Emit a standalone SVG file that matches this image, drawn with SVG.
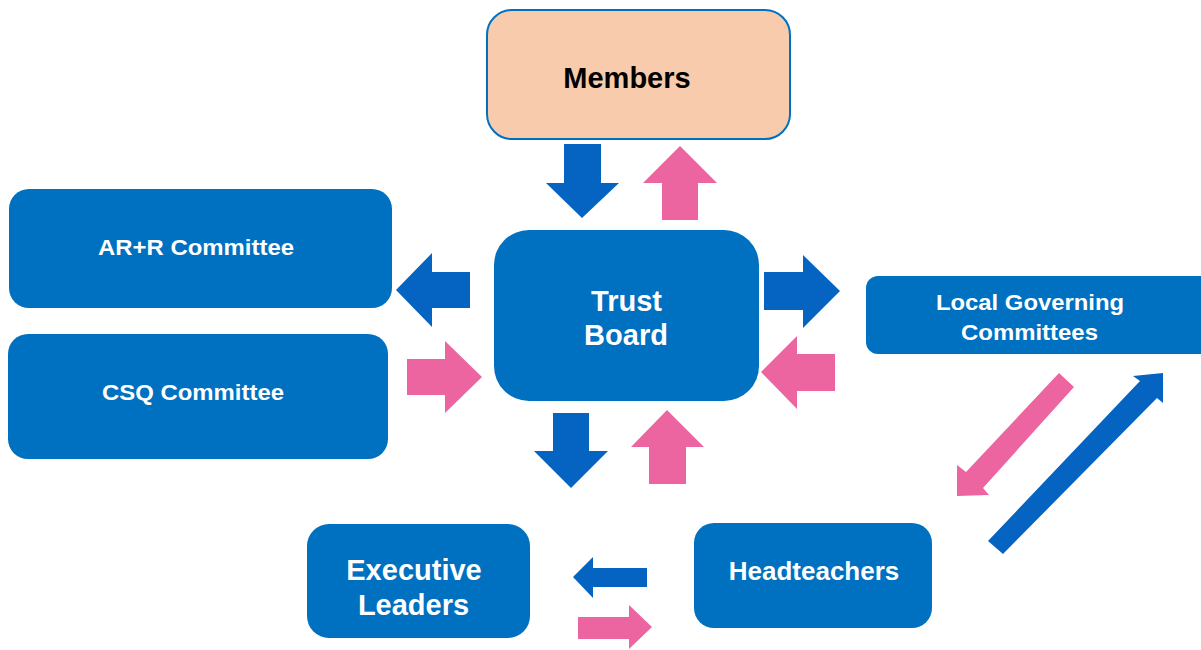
<svg xmlns="http://www.w3.org/2000/svg" width="1201" height="650" viewBox="0 0 1201 650">
<style>
.box{fill:#0070C0;}
.lbl{font-family:"Liberation Sans",Arial,sans-serif;font-weight:bold;fill:#FFFFFF;text-anchor:middle;}
.blue{fill:#0563C1;}
.pink{fill:#EC65A0;}
</style>
<rect width="1201" height="650" fill="#FFFFFF"/>
<g id="members">
<rect x="487" y="10" width="303" height="129" rx="25" fill="#F8CBAD" stroke="#0070C0" stroke-width="2"/>
<text class="lbl" x="627" y="88" font-size="29" style="fill:#000000">Members</text>
</g>
<g id="trust-board">
<rect class="box" x="494" y="230" width="265" height="171" rx="35"/>
<text class="lbl" x="626.5" y="311" font-size="29">Trust</text>
<text class="lbl" x="626" y="345" font-size="29">Board</text>
</g>
<g id="arr-committee">
<rect class="box" x="9" y="189" width="383" height="119" rx="20"/>
<text class="lbl" x="196" y="255" font-size="22" textLength="196" lengthAdjust="spacingAndGlyphs">AR+R Committee</text>
</g>
<g id="csq-committee">
<rect class="box" x="8" y="334" width="380" height="125" rx="20"/>
<text class="lbl" x="193" y="400" font-size="22" textLength="182" lengthAdjust="spacingAndGlyphs">CSQ Committee</text>
</g>
<g id="local-governing-committees">
<rect class="box" x="866" y="276" width="350" height="78" rx="12"/>
<text class="lbl" x="1030" y="310" font-size="22" textLength="188" lengthAdjust="spacingAndGlyphs">Local Governing</text>
<text class="lbl" x="1029.5" y="340" font-size="22" textLength="137" lengthAdjust="spacingAndGlyphs">Committees</text>
</g>
<g id="executive-leaders">
<rect class="box" x="307" y="524" width="223" height="114" rx="22"/>
<text class="lbl" x="414" y="580" font-size="29">Executive</text>
<text class="lbl" x="413.5" y="615" font-size="29">Leaders</text>
</g>
<g id="headteachers">
<rect class="box" x="694" y="523" width="238" height="105" rx="20"/>
<text class="lbl" x="814" y="580" font-size="26">Headteachers</text>
</g>
<g id="connectors">
<polygon class="blue" points="564,144 601,144 601,183 619,183 582,218 546,183 564,183"/>
<polygon class="pink" points="662,220 698,220 698,183 717,183 680,146 643,183 662,183"/>
<polygon class="blue" points="470,272 432,272 432,253 396,290 432,327 432,308 470,308"/>
<polygon class="pink" points="407,359 445,359 445,341 482,377 445,413 445,395 407,395"/>
<polygon class="blue" points="764,272 803,272 803,255 840,291 803,328 803,310 764,310"/>
<polygon class="pink" points="835,354 797,354 797,336 761,372 797,409 797,391 835,391"/>
<polygon class="blue" points="553,413 589,413 589,451 608,451 571,488 534,451 553,451"/>
<polygon class="pink" points="649,484 686,484 686,447 704,447 667,410 631,447 649,447"/>
<polygon class="blue" points="647,568 593,568 593,557 573,577 593,598 593,587 647,587"/>
<polygon class="pink" points="578,617 629,617 629,605 652,627 629,649 629,639 578,639"/>
<polygon class="pink" points="1059,373 1074,387 983,488 989,495 957,496 957,465 966,472"/>
<polygon class="blue" points="988,541 1140,381 1133,376 1163,373 1163,403 1157,398 1003,554"/>
</g>
</svg>
